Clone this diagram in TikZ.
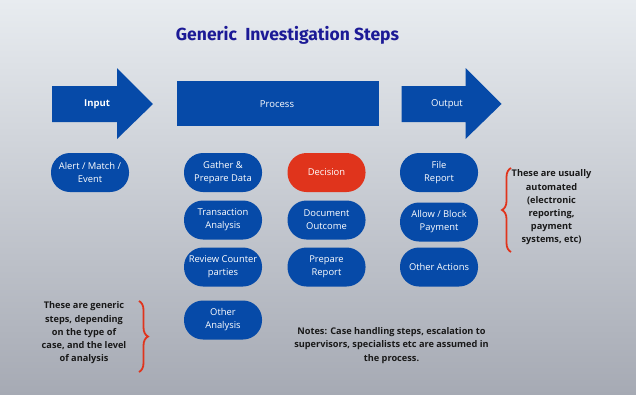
\documentclass[tikz,border=0pt]{standalone}
\usepackage{fontspec}
\setmainfont{Open Sans}
\newfontfamily\titlefont{Fira Sans}
\usetikzlibrary{positioning,calc,decorations.pathreplacing}
\definecolor{stepblue}{RGB}{6,74,168}
\definecolor{stepred}{RGB}{224,52,28}
\definecolor{titleblue}{RGB}{28,26,150}
\definecolor{bgtop}{RGB}{232,236,240}
\definecolor{bgbottom}{RGB}{166,170,180}

\tikzset{
  pill/.style={fill=stepblue, rounded corners=19pt, minimum width=78pt,
    minimum height=39pt, inner sep=0pt, align=center, text=white,
    font=\fontsize{9.4}{13}\selectfont},
  barlabel/.style={text=white, inner sep=0pt, font=\fontsize{9.5}{12}\selectfont},
  note/.style={align=center, text=black!90, font=\bfseries\fontsize{9.2}{13.2}\selectfont},
  curly/.style={draw=stepred, line width=1.8pt, decorate,
    decoration={brace, amplitude=9pt}}
}

\begin{document}
\begin{tikzpicture}[x=1pt,y=-1pt]
  % background
  \shade[top color=bgtop, bottom color=bgbottom] (0,0) rectangle (636,394);
  \useasboundingbox (0,0) rectangle (636,394);

  % title
  \node[text=titleblue, font=\titlefont\bfseries\fontsize{17.5}{20}\selectfont] (title) at (287.5,35) {Generic\ \ Investigation Steps};

  % input / process / output bar
  \fill[stepblue] (52,86) -- (117,86) -- (117,68) -- (153,104) -- (117,139) -- (117,122) -- (52,122) -- cycle;
  \node[barlabel, font=\bfseries\fontsize{9.5}{12}\selectfont] (input) at (97,104) {Input};
  \fill[stepblue] (177,81) rectangle (379,126);
  \node[barlabel] (process) at (277,104) {Process};
  \fill[stepblue] (401.5,86) -- (465.5,86) -- (465.5,68) -- (501.5,104) -- (465.5,139) -- (465.5,122) -- (401.5,122) -- cycle;
  \node[barlabel] (output) at (447,104) {Output};

  % steps
  \node[pill] (alert) at (90,172.5) {Alert / Match /\\Event};
  \node[pill] (gather) at (223,172.5) {Gather \&\\Prepare Data};
  \node[pill] (transaction) at (223,220) {Transaction\\Analysis};
  \node[pill] (review) at (223,267) {Review Counter\\parties};
  \node[pill] (otheranalysis) at (223,320) {Other\\Analysis};
  \node[pill, fill=stepred] (decision) at (326.5,172.5) {Decision};
  \node[pill] (document) at (326.5,220) {Document\\Outcome};
  \node[pill] (prepare) at (326.5,267) {Prepare\\Report};
  \node[pill] (file) at (439,172.5) {File\\Report};
  \node[pill] (allow) at (439,222) {Allow / Block\\Payment};
  \node[pill] (otheractions) at (439,267) {Other Actions};

  % notes and braces
  \node[note] (automated) at (551.5,207.5) {These are usually\\automated\\(electronic\\reporting,\\payment\\systems, etc)};
  \coordinate (autobottom) at (511,252);
  \coordinate (autotop) at (511,168);
  \draw[curly] (autobottom) -- (autotop);

  \node[note] (generic) at (84,333) {These are generic\\steps, depending\\on the type of\\case, and the level\\of analysis};
  \coordinate (generictop) at (139,301);
  \coordinate (genericbottom) at (139,372);
  \draw[curly] (generictop) -- (genericbottom);

  \node[note] (notes) at (391.5,345.5) {Notes: Case handling steps, escalation to\\supervisors, specialists etc are assumed in\\the process.};
\end{tikzpicture}
\end{document}
